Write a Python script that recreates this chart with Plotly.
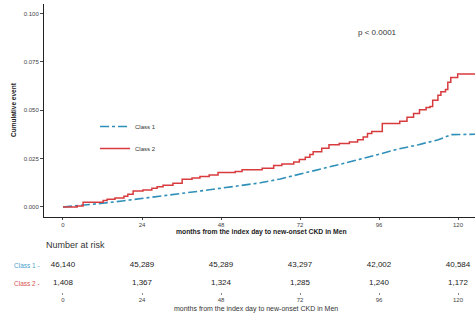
import plotly.graph_objects as go

# ---- data ----
months_ticks = [0, 24, 48, 72, 96, 120]
class1_t = [0, 6, 12, 18, 24, 30, 36, 42, 48, 54, 60, 66, 72, 78, 84, 90, 96, 102, 108, 114, 118, 125.2]
class1_v = [0, 0.0008, 0.0019, 0.0031, 0.0045, 0.0057, 0.0070, 0.0083, 0.0097, 0.0110, 0.0125,
            0.0145, 0.0170, 0.0192, 0.0220, 0.0246, 0.0273, 0.0300, 0.0322, 0.0348, 0.0374, 0.0376]
class2_t = [0, 4.3, 6.1, 12.2, 13.4, 15.8, 18.5, 19.7, 21.3, 24.3, 27.0, 28.6, 30.4, 33.4, 36.2,
            39.2, 41.6, 44.4, 47.1, 52.3, 54.4, 60.5, 64.0, 66.5, 70.1, 71.8, 73.6, 75.0, 76.0,
            78.6, 80.8, 83.9, 87.0, 89.5, 91.2, 92.5, 93.8, 97.0, 102.3, 104.5, 106.5, 108.3,
            110.3, 111.5, 112.3, 113.9, 114.8, 116.2, 116.9, 117.8, 119.9, 125.2]
class2_v = [0, 0.0005, 0.0024, 0.0034, 0.0040, 0.0046, 0.0056, 0.0066, 0.0082, 0.0088, 0.0097,
            0.0104, 0.0112, 0.0122, 0.0143, 0.0150, 0.0158, 0.0165, 0.0178, 0.0184, 0.0192,
            0.0200, 0.0214, 0.0222, 0.0232, 0.0246, 0.0257, 0.0272, 0.0285, 0.0304, 0.0322,
            0.0328, 0.0336, 0.0348, 0.0362, 0.0380, 0.0390, 0.0432, 0.0444, 0.0464, 0.0484,
            0.0503, 0.0515, 0.0520, 0.0552, 0.0578, 0.0596, 0.0608, 0.0645, 0.0670, 0.0688, 0.0688]
risk_class1 = ["46,140", "45,289", "45,289", "43,297", "42,002", "40,584"]
risk_class2 = ["1,408", "1,367", "1,324", "1,285", "1,240", "1,172"]
y_ticks = [0.000, 0.025, 0.050, 0.075, 0.100]
y_ticklabels = ["0.000", "0.025", "0.050", "0.075", "0.100"]

BLUE = "#2E8FB8"
RED = "#D83B3E"
FONT = "Liberation Sans, Arial, sans-serif"
W, H = 475, 320

def px(y):
    return 1 - y / H

fig = go.Figure()
fig.add_trace(go.Scatter(x=class1_t, y=class1_v, mode="lines", name="Class 1",
                         line=dict(color=BLUE, width=1.6, dash="dashdot"),
                         legendgroup="a"))
fig.add_trace(go.Scatter(x=class2_t, y=class2_v, mode="lines", name="Class 2",
                         line=dict(color=RED, width=1.5, shape="hv"),
                         legendgroup="b"))

# risk table
fig.add_trace(go.Scatter(x=months_ticks, y=[1] * 6, mode="text", text=risk_class1,
                         textfont=dict(size=8, color="#222", family=FONT),
                         xaxis="x2", yaxis="y2", showlegend=False, cliponaxis=False))
fig.add_trace(go.Scatter(x=months_ticks, y=[0] * 6, mode="text", text=risk_class2,
                         textfont=dict(size=8, color="#222", family=FONT),
                         xaxis="x2", yaxis="y2", showlegend=False, cliponaxis=False))

xr = [-5.77, 125.16]
x0 = 44 / W

fig.update_layout(
    width=W, height=H, margin=dict(l=0, r=0, t=0, b=0, autoexpand=False),
    paper_bgcolor="white", plot_bgcolor="white",
    font=dict(family=FONT, color="#333"),
    xaxis=dict(domain=[x0, 1], range=xr, tickvals=months_ticks, showgrid=False, zeroline=False,
               showline=True, linecolor="#222", linewidth=1, ticks="outside", ticklen=2,
               tickcolor="#444", tickfont=dict(size=6, color="#444"), automargin=False),
    yaxis=dict(domain=[px(217), px(4)], range=[-0.0052, 0.105], tickvals=y_ticks,
               ticktext=y_ticklabels, showgrid=False, zeroline=False, showline=True,
               linecolor="#222", linewidth=1, ticks="outside", ticklen=3, tickcolor="#444",
               tickfont=dict(size=6, color="#444"), automargin=False),
    xaxis2=dict(domain=[x0, 1], range=xr, tickvals=months_ticks, anchor="y2", showgrid=False,
                zeroline=False, showline=False, ticks="outside", ticklen=2, tickcolor="#888",
                tickfont=dict(size=6, color="#444"), automargin=False),
    yaxis2=dict(domain=[px(292), px(256)], range=[-0.5, 1.5], anchor="x2", visible=False,
                automargin=False),
    legend=dict(x=95 / W, y=px(112), xanchor="left", yanchor="top", bgcolor="rgba(0,0,0,0)",
                font=dict(size=6, color="#333"), tracegroupgap=3, itemwidth=30),
    showlegend=True,
)

def ann(text, x, y, size, color, xanchor="center", angle=0):
    return dict(text=text, x=x / W, y=px(y), xref="paper", yref="paper", xanchor=xanchor,
                yanchor="middle", textangle=angle, showarrow=False,
                font=dict(size=size, color=color))

anns = [
    dict(text="p < 0.0001", x=95.4, y=0.090, xref="x", yref="y", showarrow=False,
         xanchor="center", yanchor="middle", font=dict(size=8, color="#333")),
    ann("<b>Cumulative event</b>", 13, 110, 6.5, "#222", angle=-90),
    ann("<b>months from the index day to new-onset CKD in Men</b>", 261, 232, 6.8, "#222"),
    ann("Number at risk", 44, 245, 9, "#333", xanchor="left"),
    ann("Class 1 -", 42, 265, 6.5, "#4A9FCC", xanchor="right"),
    ann("Class 2 -", 42, 283, 6.5, "#D9534F", xanchor="right"),
    ann("months from the index day to new-onset CKD in Men", 256, 309, 7, "#333"),
]
fig.update_layout(annotations=anns)

fig.write_html("out.html", config={"displayModeBar": False},
               post_script="document.body.style.margin='0';document.body.style.overflow='hidden';")
